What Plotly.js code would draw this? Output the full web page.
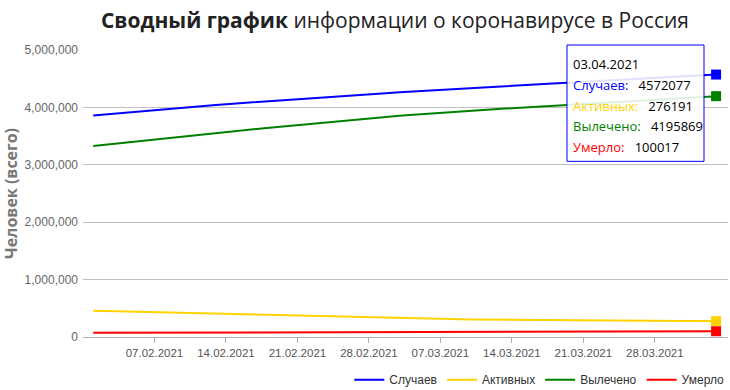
<!DOCTYPE html>
<html><head><meta charset="utf-8">
<script src="https://cdn.plot.ly/plotly-3.0.1.min.js"></script>
<style>html,body{margin:0;padding:0;background:#fff;}#chart{width:730px;height:390px;}</style>
</head><body><div id="chart"></div>
<script>
const dates = [
"2021-02-01","2021-02-02","2021-02-03","2021-02-04","2021-02-05","2021-02-06","2021-02-07",
"2021-02-08","2021-02-09","2021-02-10","2021-02-11","2021-02-12","2021-02-13","2021-02-14",
"2021-02-15","2021-02-16","2021-02-17","2021-02-18","2021-02-19","2021-02-20","2021-02-21",
"2021-02-22","2021-02-23","2021-02-24","2021-02-25","2021-02-26","2021-02-27","2021-02-28",
"2021-03-01","2021-03-02","2021-03-03","2021-03-04","2021-03-05","2021-03-06","2021-03-07",
"2021-03-08","2021-03-09","2021-03-10","2021-03-11","2021-03-12","2021-03-13","2021-03-14",
"2021-03-15","2021-03-16","2021-03-17","2021-03-18","2021-03-19","2021-03-20","2021-03-21",
"2021-03-22","2021-03-23","2021-03-24","2021-03-25","2021-03-26","2021-03-27","2021-03-28",
"2021-03-29","2021-03-30","2021-03-31","2021-04-01","2021-04-02","2021-04-03"];

const cases = [
3858367,3874500,3891000,3907000,3923000,3939000,3955000,
3969500,3984000,3998500,4013000,4027500,4042000,4056000,
4069000,4082000,4095000,4108000,4121000,4134000,4147000,
4159000,4171000,4183000,4195000,4207000,4219000,4231000,
4242000,4253000,4264000,4275000,4286000,4297000,4308000,
4318000,4328000,4338000,4348000,4358000,4368000,4378000,
4387500,4397000,4406500,4416000,4425500,4435000,4444500,
4453500,4463400,4473300,4483200,4493100,4503000,4512900,
4522800,4532700,4542600,4552500,4562300,4572077];

const active = [
457000,453500,450000,446800,443500,440000,435800,
431500,427000,422500,418000,413400,408800,404200,
399600,395000,390400,385800,381200,376600,372000,
367600,363200,358800,354400,350000,344500,339000,
334000,329000,324000,321000,318000,315500,313000,
310500,308500,306500,304500,302500,300500,299000,
297500,296000,294700,293400,292100,290800,289600,
288400,287200,286000,285000,284000,283000,282000,
281000,280000,279000,278000,277100,276191];

const recovered = [
3328185,3347300,3366780,3385460,3404250,3423240,3442930,
3461240,3479750,3498260,3516770,3535390,3554010,3572130,
3589260,3606390,3623520,3640660,3657800,3674940,3692090,
3708040,3723990,3739940,3755900,3771860,3788920,3805990,
3821560,3837130,3852700,3866280,3879860,3892940,3906020,
3918100,3929690,3941280,3952870,3964460,3976050,3987150,
3997750,4008350,4018750,4029150,4039550,4049960,4060270,
4070080,4080760,4091440,4101920,4112400,4122880,4133360,
4143840,4154320,4164810,4175300,4185590,4195869];

const deaths = [
73182,73700,74220,74740,75250,75760,76270,
76760,77250,77740,78230,78710,79190,79670,
80140,80610,81080,81540,82000,82460,82910,
83360,83810,84260,84700,85140,85580,86010,
86440,86870,87300,87720,88140,88560,88980,
89400,89810,90220,90630,91040,91450,91850,
92250,92650,93050,93450,93850,94240,94630,
95020,95440,95860,96280,96700,97120,97540,
97960,98380,98790,99200,99610,100017];

const seriesNames = ["Случаев","Активных","Вылечено","Умерло"];
const seriesColors = ["#0000ff","#ffd200","#008000","#ff0000"];
const seriesData = [cases, active, recovered, deaths];
const tickDates = ["2021-02-07","2021-02-14","2021-02-21","2021-02-28","2021-03-07","2021-03-14","2021-03-21","2021-03-28"];
const tickLabels = ["07.02.2021","14.02.2021","21.02.2021","28.02.2021","07.03.2021","14.03.2021","21.03.2021","28.03.2021"];
const tooltipDate = "03.04.2021";

const traces = [];
seriesData.forEach((ys, i) => {
  traces.push({x: dates, y: ys, type: "scatter", mode: "lines", name: seriesNames[i],
    line: {color: seriesColors[i], width: 2}, hoverinfo: "skip"});
});
seriesData.forEach((ys, i) => {
  const n = ys.length - 1;
  traces.push({x: [dates[n]], y: [ys[n]], type: "scatter", mode: "markers", showlegend: false,
    marker: {symbol: "square", size: 10, color: seriesColors[i]}, hoverinfo: "skip"});
});

let tipLines = ['<span style="color:#000">' + tooltipDate + '</span>'];
seriesData.forEach((ys, i) => {
  tipLines.push('<span style="color:' + seriesColors[i] + '">' + seriesNames[i] + ':</span>   <span style="color:#000">' + ys[ys.length-1] + '</span>');
});

const layout = {
  width: 730, height: 390,
  margin: {l: 83, r: 2, t: 50, b: 53, autoexpand: false},
  paper_bgcolor: "#fff", plot_bgcolor: "#fff",
  font: {family: "Liberation Sans, Arial, sans-serif", color: "#555"},
  title: {text: "<b>Сводный график</b> информации о коронавирусе в Россия",
    font: {family: "Open Sans, sans-serif", size: 21, color: "#222"},
    x: 0.541, xanchor: "center", y: 0.948, yanchor: "middle"},
  xaxis: {type: "date", range: ["2021-01-31 00:00", "2021-04-04 04:00"], automargin: false,
    tickvals: tickDates, ticktext: tickLabels, ticks: "outside", ticklen: 5, tickcolor: "#b0b0b0",
    showgrid: false, zeroline: false, showline: true, linecolor: "#b0b0b0", linewidth: 1,
    tickfont: {size: 11.5, color: "#555"}},
  yaxis: {range: [0, 5000000], tickvals: [0,1000000,2000000,3000000,4000000,5000000], automargin: false,
    tickformat: ",d", showgrid: true, gridcolor: "#c0c0c0", gridwidth: 1, zeroline: false,
    showline: false, ticks: "", ticklabelstandoff: 4,
    tickfont: {size: 12, color: "#666"},
    title: {text: "<b>Человек (всего)</b>", font: {size: 16, color: "#777", family: "Open Sans, sans-serif"}, standoff: 6}},
  showlegend: true,
  legend: {orientation: "h", x: 1.002, xanchor: "right", y: -0.149, yanchor: "middle",
    font: {size: 12, color: "#333"}, itemwidth: 30, tracegroupgap: 0},
  shapes: [{type: "rect", xref: "paper", yref: "paper", x0: 0.7504, x1: 0.9628, y0: 0.612, y1: 1.0174,
    line: {color: "#0000ff", width: 1}, fillcolor: "rgba(255,255,255,0.88)", layer: "above"}],
  annotations: [{
    xref: "paper", yref: "paper", x: 0.7504, y: 1.0174, xanchor: "left", yanchor: "top",
    xshift: 1, yshift: -5,
    text: tipLines.map(s => '<span style="font-size:13px">' + s + '</span>').join("<br>"),
    align: "left", valign: "top", showarrow: false,
    font: {family: "Open Sans, sans-serif", size: 16, color: "#000"},
    borderpad: 4
  }]
};

Plotly.newPlot("chart", traces, layout, {displayModeBar: false, staticPlot: true});
</script></body></html>
